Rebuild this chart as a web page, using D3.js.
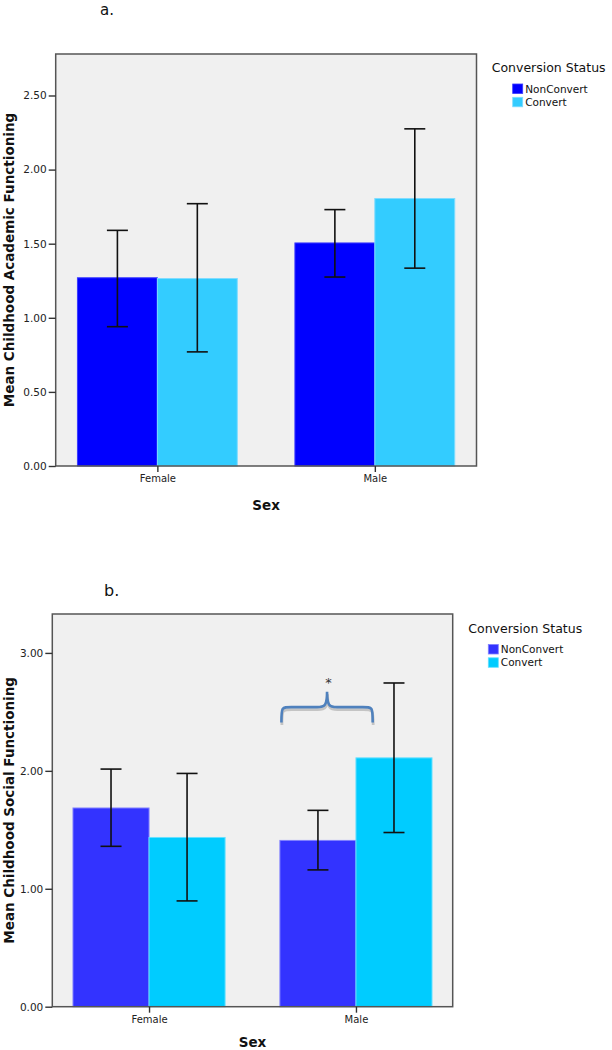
<!DOCTYPE html>
<html>
<head>
<meta charset="utf-8">
<script src="https://cdn.jsdelivr.net/npm/d3@7"></script>
<style>
  html, body { margin: 0; padding: 0; background: #fff; }
  svg { display: block; }
  text { font-family: "DejaVu Sans", Verdana, sans-serif; }
</style>
</head>
<body>
<svg id="chart" width="612" height="1050"></svg>
<script>
// ---------- data ----------
const sexes = ["Female", "Male"];
const statuses = ["NonConvert", "Convert"];

const academicNonConvert = [1.27, 1.505];
const academicNonConvertCI = [[0.94, 1.59], [1.275, 1.73]];
const academicConvert = [1.265, 1.805];
const academicConvertCI = [[0.77, 1.77], [1.335, 2.275]];
const academicTicks = [0, 0.5, 1.0, 1.5, 2.0, 2.5];
const academicMax = 2.78;

const socialNonConvert = [1.685, 1.41];
const socialNonConvertCI = [[1.36, 2.015], [1.16, 1.665]];
const socialConvert = [1.435, 2.11];
const socialConvertCI = [[0.897, 1.978], [1.477, 2.745]];
const socialTicks = [0, 1.0, 2.0, 3.0];
const socialMax = 3.33;

// significance annotation (panel b): Male group, brace ends/tip in data units
const sigGroup = "Male";
const sigBrace = { end: 2.41, mid: 2.54, tip: 2.67, label: "*" };

// ---------- layout ----------
const svg = d3.select("#chart");

function drawPanel(p) {
  const g = svg.append("g");
  const x = d3.scaleBand().domain(sexes).range([p.left, p.right])
    .paddingInner(0.265).paddingOuter(0.1);
  const xs = d3.scaleBand().domain(statuses).range([0, x.bandwidth()]);
  const y = d3.scaleLinear().domain([0, p.max]).range([p.bottom, p.top]);

  // panel letter
  g.append("text").attr("x", p.letterX).attr("y", p.letterY)
    .attr("font-size", p.letterSize).attr("fill", "#111").text(p.letter);

  // background
  g.append("rect").attr("x", p.left).attr("y", p.top)
    .attr("width", p.right - p.left).attr("height", p.bottom - p.top)
    .attr("fill", "#f0f0f0");

  const rows = [];
  sexes.forEach((s, i) => {
    rows.push({ sex: s, status: "NonConvert", v: p.nc[i], ci: p.ncCI[i] });
    rows.push({ sex: s, status: "Convert", v: p.c[i], ci: p.cCI[i] });
  });

  // bars
  g.selectAll("rect.bar").data(rows).join("rect").attr("class", "bar")
    .attr("x", d => x(d.sex) + xs(d.status))
    .attr("width", xs.bandwidth())
    .attr("y", d => y(d.v))
    .attr("height", d => y(0) - y(d.v))
    .attr("fill", d => p.colors[d.status])
    .attr("stroke", d => p.edge[d.status]).attr("stroke-width", 1);

  // error bars
  const eb = g.selectAll("g.eb").data(rows).join("g").attr("class", "eb")
    .attr("stroke", "#111").attr("stroke-width", 1.6);
  const cx = d => x(d.sex) + xs(d.status) + xs.bandwidth() / 2;
  eb.append("line").attr("x1", cx).attr("x2", cx)
    .attr("y1", d => y(d.ci[0])).attr("y2", d => y(d.ci[1]));
  eb.append("line").attr("x1", d => cx(d) - 10.5).attr("x2", d => cx(d) + 10.5)
    .attr("y1", d => y(d.ci[1])).attr("y2", d => y(d.ci[1]));
  eb.append("line").attr("x1", d => cx(d) - 10.5).attr("x2", d => cx(d) + 10.5)
    .attr("y1", d => y(d.ci[0])).attr("y2", d => y(d.ci[0]));

  // frame
  g.append("rect").attr("x", p.left).attr("y", p.top)
    .attr("width", p.right - p.left).attr("height", p.bottom - p.top)
    .attr("fill", "none").attr("stroke", "#555").attr("stroke-width", 1.5);

  // y axis
  const ya = g.append("g").attr("transform", `translate(${p.left},0)`)
    .call(d3.axisLeft(y).tickValues(p.ticks).tickFormat(d3.format(".2f"))
      .tickSize(7).tickPadding(2));
  ya.select(".domain").remove();
  ya.selectAll("line").attr("stroke", "#333").attr("stroke-width", 1.4);
  ya.selectAll("text").attr("font-size", 10.5).attr("fill", "#222")
    .attr("font-family", "DejaVu Sans");

  // x axis
  const xc = d3.scaleOrdinal().domain(sexes).range(sexes.map(s => x(s) + x.bandwidth() / 2));
  const xa = g.append("g").attr("transform", `translate(0,${p.bottom})`)
    .call(d3.axisBottom(d3.scalePoint().domain(sexes)
      .range([xc("Female"), xc("Male")])).tickSize(6).tickPadding(3));
  xa.select(".domain").remove();
  xa.selectAll("line").attr("stroke", "#333").attr("stroke-width", 1.4);
  xa.selectAll("text").attr("font-size", 10).attr("fill", "#222")
    .attr("font-family", "DejaVu Sans");

  // axis titles
  g.append("text").attr("x", (p.left + p.right) / 2).attr("y", p.bottom + p.sexDy)
    .attr("text-anchor", "middle").attr("font-size", 13.5).attr("font-weight", "bold")
    .attr("fill", "#111").text("Sex");
  g.append("text")
    .attr("transform", `translate(${p.yTitleX},${(p.top + p.bottom) / 2}) rotate(-90)`)
    .attr("text-anchor", "middle").attr("font-size", 13.5).attr("font-weight", "bold")
    .attr("fill", "#111").text(p.yTitle);

  // legend
  const lg = g.append("g").attr("transform", `translate(${p.legX},${p.legY})`);
  lg.append("text").attr("x", 0).attr("y", 0).attr("font-size", 12.5)
    .attr("fill", "#111").text("Conversion Status");
  statuses.forEach((s, i) => {
    lg.append("rect").attr("x", p.swX).attr("y", 12 + i * 13.3)
      .attr("width", 10).attr("height", 9.5).attr("fill", p.colors[s])
      .attr("stroke", p.edge[s]).attr("stroke-width", 0.8);
    lg.append("text").attr("x", p.swX + 12.5).attr("y", 20.5 + i * 13.3)
      .attr("font-size", 10.5).attr("fill", "#111").text(s);
  });

  return { x, xs, y, g };
}

drawPanel({
  letter: "a.", letterX: 100, letterY: 15, letterSize: 15,
  left: 55.7, right: 476.5, top: 54, bottom: 466, max: academicMax,
  ticks: academicTicks, yTitle: "Mean Childhood Academic Functioning", yTitleX: 14,
  nc: academicNonConvert, ncCI: academicNonConvertCI,
  c: academicConvert, cCI: academicConvertCI,
  colors: { NonConvert: "#0000ff", Convert: "#33ccff" },
  edge: { NonConvert: "#3a3aff", Convert: "#7fdcff" },
  legX: 491.7, legY: 72, swX: 21, sexDy: 44
});

const pb = drawPanel({
  letter: "b.", letterX: 104, letterY: 596, letterSize: 16,
  left: 52.3, right: 452.7, top: 614, bottom: 1006.7, max: socialMax,
  ticks: socialTicks, yTitle: "Mean Childhood Social Functioning", yTitleX: 14,
  nc: socialNonConvert, ncCI: socialNonConvertCI,
  c: socialConvert, cCI: socialConvertCI,
  colors: { NonConvert: "#3333ff", Convert: "#00ccff" },
  edge: { NonConvert: "#8080ff", Convert: "#66e0ff" },
  legX: 468.3, legY: 632.5, swX: 20, sexDy: 40
});

// significance brace on panel b
(function () {
  const { x, xs, y, g } = pb;
  const x0 = x(sigGroup) + 1.5;
  const x1 = x(sigGroup) + xs.bandwidth() * 1.22;
  const xm = (x0 + x1) / 2;
  const yE = y(sigBrace.end), yM = y(sigBrace.mid), yT = y(sigBrace.tip);
  const r = 10;
  const path = `M${x0},${yE} C${x0},${yM} ${x0},${yM} ${x0 + r},${yM} L${xm - r},${yM} ` +
    `C${xm - 2},${yM} ${xm},${yM - 2} ${xm},${yT} C${xm},${yM - 2} ${xm + 2},${yM} ${xm + r},${yM} ` +
    `L${x1 - r},${yM} C${x1},${yM} ${x1},${yM} ${x1},${yE}`;
  g.append("path").attr("d", path).attr("transform", "translate(0.5,2.5)")
    .attr("fill", "none").attr("stroke", "#c4c4c4").attr("stroke-width", 2.8);
  g.append("path").attr("d", path)
    .attr("fill", "none").attr("stroke", "#4f81bd").attr("stroke-width", 2.6);
  g.append("text").attr("x", xm + 1.5).attr("y", yT - 5).attr("text-anchor", "middle")
    .attr("font-size", 13).attr("fill", "#333").text(sigBrace.label);
})();
</script>
</body>
</html>
